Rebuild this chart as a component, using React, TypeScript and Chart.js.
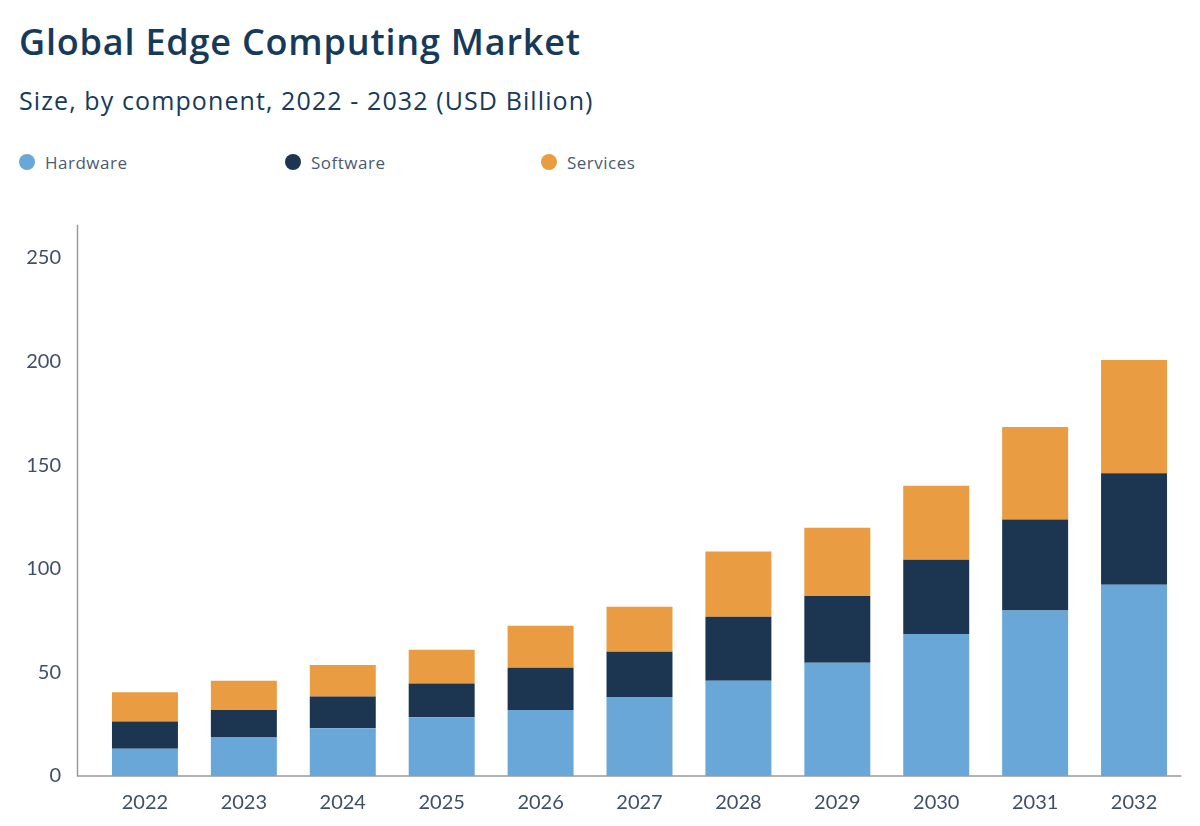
import React, { useEffect, useRef } from "react";
import { Chart, registerables } from "chart.js";

Chart.register(...registerables);

const years = ["2022", "2023", "2024", "2025", "2026", "2027", "2028", "2029", "2030", "2031", "2032"];
const hardware = [13.1, 18.6, 23.0, 28.4, 31.8, 38.1, 45.9, 54.6, 68.5, 79.8, 92.3];
const software = [13.2, 13.2, 15.3, 16.2, 20.4, 21.8, 30.9, 32.3, 35.8, 44.0, 53.8];
const services = [14.1, 14.2, 15.2, 16.3, 20.3, 21.8, 31.5, 32.9, 35.8, 44.6, 54.6];
const yTicks = [0, 50, 100, 150, 200, 250];

const seriesNames = ["Hardware", "Software", "Services"];
const seriesColors = ["#68a7d8", "#1c3652", "#e99c41"];

const FONT = "Lato, 'Open Sans', sans-serif";
const HEAD_FONT = "'Open Sans', Lato, sans-serif";
const AXIS_GAP = 18;

const axisLinePlugin = {
  id: "axisLines",
  afterDatasetsDraw(chart: any) {
    const { ctx, chartArea } = chart;
    const x0 = chartArea.left - AXIS_GAP;
    ctx.save();
    ctx.strokeStyle = "#9a9a9a";
    ctx.lineWidth = 1.5;
    ctx.beginPath();
    ctx.moveTo(x0, chartArea.top);
    ctx.lineTo(x0, chartArea.bottom);
    ctx.lineTo(chartArea.right - 2, chartArea.bottom);
    ctx.stroke();
    ctx.restore();
  },
};

export default function App() {
  const ref = useRef<HTMLCanvasElement>(null);

  useEffect(() => {
    if (!ref.current) return;
    const data = [hardware, software, services];
    const chart = new Chart(ref.current, {
      type: "bar",
      data: {
        labels: years,
        datasets: seriesNames.map((name, i) => ({
          label: name,
          data: data[i],
          backgroundColor: seriesColors[i],
          borderWidth: 0,
          categoryPercentage: 1,
          barPercentage: 0.667,
        })),
      },
      options: {
        animation: false,
        responsive: false,
        maintainAspectRatio: false,
        layout: { padding: { top: 34.7, right: 16.5, bottom: 12, left: 0 } },
        plugins: {
          legend: { display: false },
          title: { display: false },
          tooltip: { enabled: false },
        },
        scales: {
          x: {
            stacked: true,
            grid: { display: false, drawTicks: false },
            border: { display: false },
            ticks: {
              padding: 15,
              color: "#3f4f68",
              font: { family: FONT, size: 20 },
            },
          },
          y: {
            stacked: true,
            min: 0,
            max: 266,
            grid: { display: false, drawTicks: false },
            border: { display: false },
            afterFit: (scale: any) => {
              scale.width = 95.5;
              scale.paddingTop = 0;
              scale.paddingBottom = 0;
            },
            afterBuildTicks: (scale: any) => {
              scale.ticks = yTicks.map((v) => ({ value: v }));
            },
            ticks: {
              padding: 34.5,
              color: "#3f4f68",
              font: { family: FONT, size: 20 },
            },
          },
        },
      },
      plugins: [axisLinePlugin],
    });
    return () => chart.destroy();
  }, []);

  return (
    <div
      style={{
        position: "fixed",
        left: 0,
        top: 0,
        width: 1200,
        height: 826,
        background: "#ffffff",
        fontFamily: HEAD_FONT,
        overflow: "hidden",
      }}
    >
      <div
        style={{
          position: "absolute",
          left: 19,
          top: 19,
          fontSize: 36,
          fontWeight: 600,
          letterSpacing: 0.8,
          color: "#163a5a",
          lineHeight: "46px",
          whiteSpace: "nowrap",
        }}
      >
        Global Edge Computing Market
      </div>
      <div
        style={{
          position: "absolute",
          left: 19,
          top: 84,
          fontSize: 25,
          letterSpacing: 1.1,
          color: "#163a5a",
          lineHeight: "32px",
          whiteSpace: "nowrap",
        }}
      >
        Size, by component, 2022 - 2032 (USD Billion)
      </div>
      {seriesNames.map((name, i) => (
        <div
          key={name}
          style={{
            position: "absolute",
            left: [19, 285, 541][i],
            top: 151,
            height: 22,
            display: "flex",
            alignItems: "center",
            fontSize: 17,
            letterSpacing: 0.5,
            color: "#4a5a72",
            whiteSpace: "nowrap",
          }}
        >
          <span
            style={{
              display: "inline-block",
              width: 16,
              height: 16,
              borderRadius: 8,
              background: seriesColors[i],
              marginRight: 10,
            }}
          />
          {name}
        </div>
      ))}
      <canvas
        ref={ref}
        width={1200}
        height={652}
        style={{ position: "absolute", left: 0, top: 190, width: 1200, height: 652 }}
      />
    </div>
  );
}
